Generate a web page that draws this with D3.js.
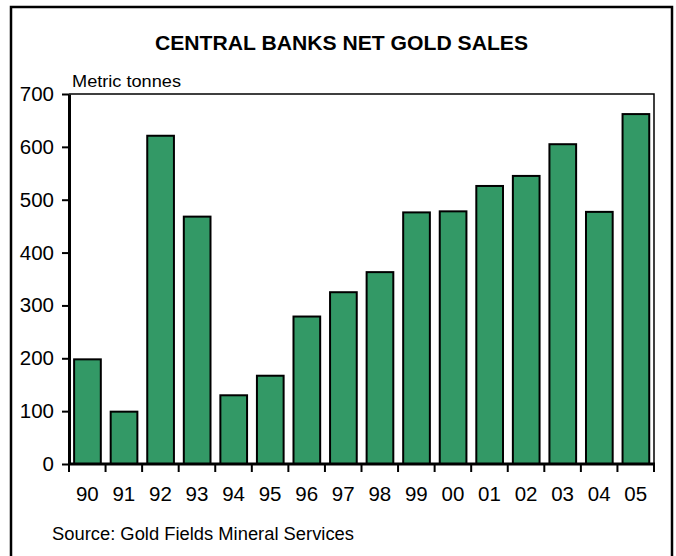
<!DOCTYPE html>
<html>
<head>
<meta charset="utf-8">
<script src="https://cdn.jsdelivr.net/npm/d3@7"></script>
<style>
  body { margin: 0; background: #fff; }
  svg text { font-family: "Liberation Sans", Arial, sans-serif; fill: #000; }
</style>
</head>
<body>
<div id="chart"></div>
<script>
// data
var years = ["90", "91", "92", "93", "94", "95", "96", "97", "98", "99", "00", "01", "02", "03", "04", "05"];
var sales = [198, 99, 621, 468, 130, 167, 279, 325, 363, 476, 478, 526, 545, 605, 477, 662];
var yTicks = [0, 100, 200, 300, 400, 500, 600, 700];

window.addEventListener('DOMContentLoaded', function () {
  drawChart();
});

function drawChart() {
  var w = 676, h = 556;
  var left = 69, right = 654, top = 94, bottom = 464;

  var svg = d3.select("#chart")
    .append("svg")
    .attr("width", w)
    .attr("height", h);

  // outer frame
  svg.append("rect")
    .attr("x", 11).attr("y", 7)
    .attr("width", 661).attr("height", 560)
    .attr("fill", "none")
    .attr("stroke", "#000")
    .attr("stroke-width", 2.5);

  svg.append("text")
    .attr("x", 155).attr("y", 50)
    .attr("textLength", 373)
    .attr("lengthAdjust", "spacingAndGlyphs")
    .style("font-size", "20px")
    .style("font-weight", "bold")
    .text("CENTRAL BANKS NET GOLD SALES");

  svg.append("text")
    .attr("x", 72).attr("y", 87)
    .attr("textLength", 109)
    .attr("lengthAdjust", "spacingAndGlyphs")
    .style("font-size", "16px")
    .text("Metric tonnes");

  var x = d3.scaleBand()
    .domain(years)
    .range([left, right]);

  var y = d3.scaleLinear()
    .domain([0, 700])
    .range([bottom, top]);

  // thin top/right frame of plot
  svg.append("path")
    .attr("d", "M" + left + "," + y(700) + "H" + right + "V" + bottom)
    .attr("fill", "none")
    .attr("stroke", "#000")
    .attr("stroke-width", 1.5);

  var step = x.step();
  svg.selectAll("rect.bar")
    .data(sales)
    .enter()
    .append("rect")
    .attr("class", "bar")
    .attr("x", function (d, i) { return x(years[i]) + step * 0.14; })
    .attr("width", step * 0.73)
    .attr("y", function (d) { return y(d); })
    .attr("height", function (d) { return y(0) - y(d); })
    .attr("fill", "#339966")
    .attr("stroke", "#000")
    .attr("stroke-width", 2);

  // y axis
  var gy = svg.append("g")
    .attr("transform", "translate(" + left + ",0)")
    .call(d3.axisLeft(y).tickValues(yTicks).tickSizeInner(7).tickSizeOuter(0).tickPadding(8));

  // x axis, ticks on band edges
  var edges = years.map(function (d) { return x(d); }).concat([right]);
  var gx = svg.append("g")
    .attr("transform", "translate(0," + bottom + ")");
  gx.append("line")
    .attr("x1", left - 1).attr("x2", right + 1)
    .attr("stroke", "#000").attr("stroke-width", 3);
  gx.selectAll("line.tick")
    .data(edges)
    .enter()
    .append("line")
    .attr("class", "tick")
    .attr("x1", function (d) { return d; })
    .attr("x2", function (d) { return d; })
    .attr("y1", 0).attr("y2", 8)
    .attr("stroke", "#000").attr("stroke-width", 2);
  gx.selectAll("text")
    .data(years)
    .enter()
    .append("text")
    .attr("x", function (d) { return x(d) + x.bandwidth() / 2; })
    .attr("y", 37)
    .attr("text-anchor", "middle")
    .style("font-size", "20.5px")
    .text(function (d) { return d; });

  gy.select("path.domain")
    .attr("stroke", "#000")
    .attr("stroke-width", 3);
  gy.selectAll(".tick line")
    .attr("stroke", "#000")
    .attr("stroke-width", 2);
  gy.selectAll(".tick text")
    .style("font-size", "20.5px")
    .attr("fill", "#000");

  svg.append("text")
    .attr("x", 52).attr("y", 540)
    .attr("textLength", 302)
    .attr("lengthAdjust", "spacingAndGlyphs")
    .style("font-size", "17.5px")
    .text("Source: Gold Fields Mineral Services");
}
</script>
</body>
</html>
